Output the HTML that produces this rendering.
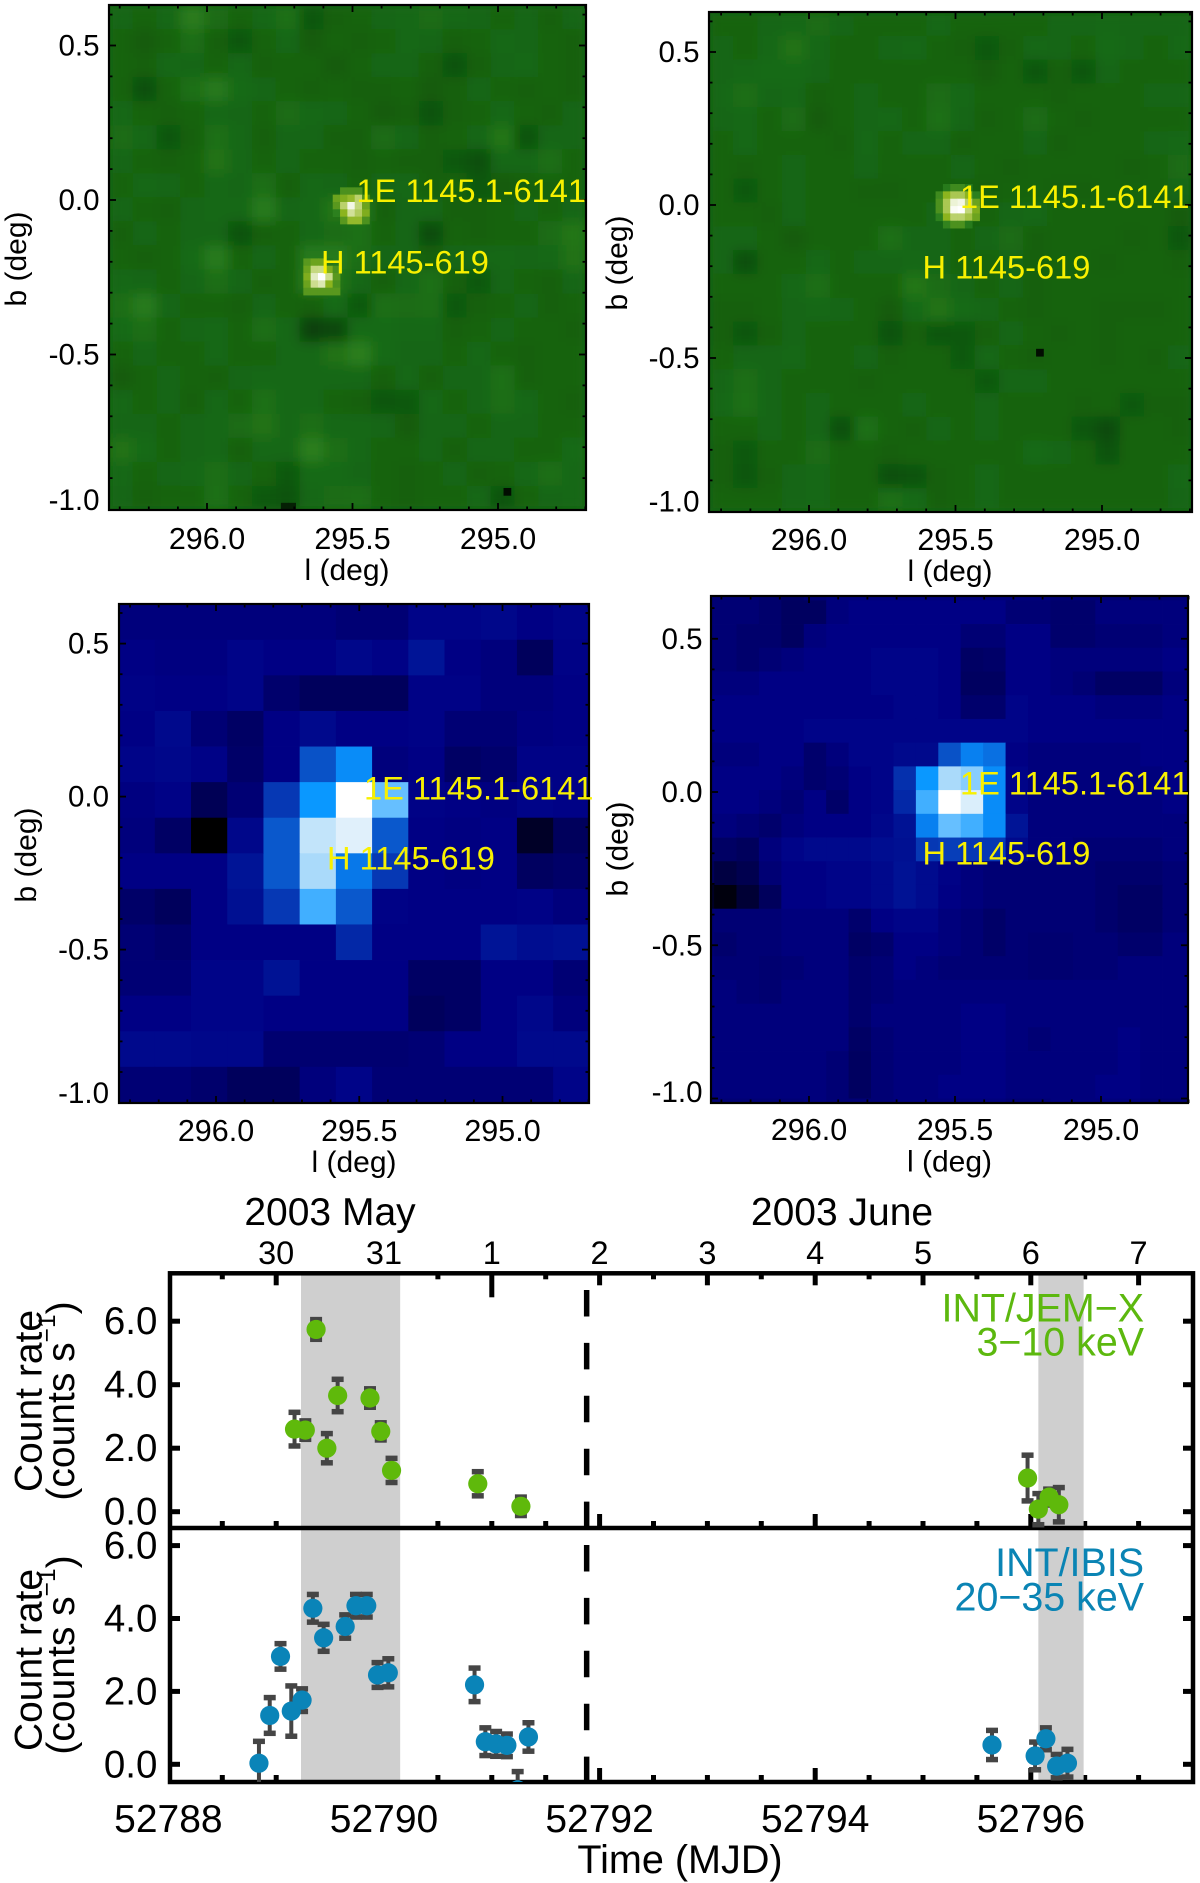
<!DOCTYPE html>
<html lang="en">
<head>
<meta charset="utf-8">
<title>1E 1145.1-6141 and H 1145-619 INTEGRAL maps and light curves</title>
<style>
html,body{margin:0;padding:0;background:#fff;}
svg{display:block;font-family:"Liberation Sans",Arial,sans-serif;}
.t{font-size:30px;fill:#000;}
.a{font-size:32.6px;fill:#f8f000;}
.c{font-size:39px;fill:#000;}
</style>
</head>
<body>
<svg id="figure" xmlns="http://www.w3.org/2000/svg" width="1200" height="1883" viewBox="0 0 1200 1883">
<defs>
<filter id="soft" x="-5%" y="-5%" width="110%" height="110%"><feGaussianBlur stdDeviation="6"/></filter>
<clipPath id="clip-p1"><rect x="109" y="5" width="477" height="505"/></clipPath>
<clipPath id="clip-p2"><rect x="709" y="12" width="483" height="500"/></clipPath>
<clipPath id="clip-p3"><rect x="119" y="604" width="470" height="499"/></clipPath>
<clipPath id="clip-p4"><rect x="711" y="596" width="477" height="507"/></clipPath>
<clipPath id="clip-upper"><rect x="170" y="1273" width="1023" height="255"/></clipPath>
<clipPath id="clip-lower"><rect x="170" y="1528" width="1023" height="254"/></clipPath>
</defs>
<rect width="1200" height="1883" fill="#fff"/>

<g id="p1"></g>
<g id="p2"></g>
<g id="p3"></g>
<g id="p4"></g>

<g>
<text class="t" x="347" y="580" text-anchor="middle">l (deg)</text>
<text class="t" x="26" y="259" text-anchor="middle" transform="rotate(-90 26 259)">b (deg)</text>
<text class="t" x="950" y="581" text-anchor="middle">l (deg)</text>
<text class="t" x="627" y="263" text-anchor="middle" transform="rotate(-90 627 263)">b (deg)</text>
<text class="t" x="354" y="1172" text-anchor="middle">l (deg)</text>
<text class="t" x="36" y="855" text-anchor="middle" transform="rotate(-90 36 855)">b (deg)</text>
<text class="t" x="949.5" y="1171.5" text-anchor="middle">l (deg)</text>
<text class="t" x="627.5" y="849" text-anchor="middle" transform="rotate(-90 627.5 849)">b (deg)</text>
</g>

<g>
<text class="a" x="356.5" y="202">1E 1145.1-6141</text>
<text class="a" x="321" y="273.6">H 1145-619</text>
<text class="a" x="960" y="207.8">1E 1145.1-6141</text>
<text class="a" x="922.5" y="278.6">H 1145-619</text>
<text class="a" x="364" y="799.3">1E 1145.1-6141</text>
<text class="a" x="327" y="869.4">H 1145-619</text>
<text class="a" x="960" y="794.7">1E 1145.1-6141</text>
<text class="a" x="922.5" y="864.4">H 1145-619</text>
</g>

<g id="lc-ticks"></g>
<g id="lc-bands"></g>
<rect x="170" y="1273.3" width="1023" height="508.7" fill="none" stroke="#000" stroke-width="4.5"/>
<line x1="170" x2="1193" y1="1528" y2="1528" stroke="#000" stroke-width="4.5"/>
<g id="lc-dash"></g>
<g id="lc-upper" clip-path="url(#clip-upper)"></g>
<g id="lc-lower" clip-path="url(#clip-lower)"></g>
<g id="lc-labels"></g>

<g>
<text class="c" x="330" y="1225" text-anchor="middle">2003 May</text>
<text class="c" x="842" y="1225" text-anchor="middle">2003 June</text>
<text class="c" x="680" y="1873" text-anchor="middle" style="font-size:39.6px">Time (MJD)</text>
<text class="c" x="41.5" y="1401" text-anchor="middle" transform="rotate(-90 41.5 1401)">Count rate</text>
<text class="c" x="74" y="1401" text-anchor="middle" transform="rotate(-90 74 1401)">(counts s<tspan font-size="24.5" dy="-19">−1</tspan><tspan dy="19">)</tspan></text>
<text class="c" x="41.5" y="1660" text-anchor="middle" transform="rotate(-90 41.5 1660)">Count rate</text>
<text class="c" x="74" y="1655" text-anchor="middle" transform="rotate(-90 74 1655)">(counts s<tspan font-size="24.5" dy="-19">−1</tspan><tspan dy="19">)</tspan></text>
<text class="c" x="1144" y="1321.7" text-anchor="end" style="fill:#5cb80e;font-size:39.4px">INT/JEM−X</text>
<text class="c" x="1144" y="1355.7" text-anchor="end" style="fill:#5cb80e;font-size:39.4px">3−10 keV</text>
<text class="c" x="1144" y="1576" text-anchor="end" style="fill:#0a84b4;font-size:39.4px">INT/IBIS</text>
<text class="c" x="1144" y="1610.7" text-anchor="end" style="fill:#0a84b4;font-size:39.4px">20−35 keV</text>
</g>

<script>
/* ---------- light curve data ---------- */
const jemMjd  = [52789.17,52789.27,52789.37,52789.47,52789.57,52789.87,52789.97,52790.07,52790.87,52791.27,52795.97,52796.07,52796.17,52796.26];
const jemRate = [2.60,2.57,5.74,2.00,3.66,3.58,2.53,1.30,0.88,0.17,1.06,0.08,0.46,0.22];
const jemErr  = [0.53,0.29,0.31,0.46,0.51,0.29,0.27,0.38,0.38,0.29,0.72,0.49,0.25,0.54];
const ibisMjd  = [52788.84,52788.94,52789.04,52789.14,52789.24,52789.34,52789.44,52789.64,52789.74,52789.84,52789.94,52790.04,52790.84,52790.94,52791.04,52791.14,52791.24,52791.34,52795.64,52796.04,52796.14,52796.24,52796.34];
const ibisRate = [0.03,1.34,2.96,1.46,1.76,4.28,3.47,3.78,4.35,4.35,2.45,2.51,2.18,0.62,0.56,0.52,-0.70,0.75,0.53,0.23,0.70,-0.05,0.03];
const ibisErr  = [0.60,0.49,0.35,0.69,0.31,0.38,0.37,0.32,0.31,0.31,0.34,0.385,0.46,0.38,0.34,0.31,0.50,0.39,0.40,0.38,0.30,0.32,0.38];
const bandStart = [52789.23,52796.07];
const bandEnd   = [52790.15,52796.49];
const dashMjd = 52791.88;
const rateTicks = [0,2,4,6];
const rateTickLabels = ["0.0","2.0","4.0","6.0"];
const dateTickMjd = [52789,52790,52791,52792,52793,52794,52795,52796,52797];
const dateTickLabels = ["30","31","1","2","3","4","5","6","7"];
const halfDayTicks = [52788.5,52789,52789.5,52790,52790.5,52791,52791.5,52792,52792.5,52793,52793.5,52794,52794.5,52795,52795.5,52796,52796.5,52797];
const mjdMajor = [52788,52790,52792,52794,52796];
const mjdLabels = ["52788","52790","52792","52794","52796"];

/* ---------- map data (0-100 intensity, estimated by eye) ---------- */
const lTicks = [296.0,295.5,295.0];
const lMinor = [296.3,296.2,296.1,295.9,295.8,295.7,295.6,295.4,295.3,295.2,295.1,294.9,294.8,294.7];
const bTicks = [0.5,0,-0.5,-1.0];
const bMinor = [0.6,0.4,0.3,0.2,0.1,-0.1,-0.2,-0.3,-0.4,-0.6,-0.7,-0.8,-0.9];

const p1Background = [
[32,31,33,43,35,31,33,37,27,30,31,32,33,35,33,32,31,32,30,32],
[31,29,31,36,30,27,31,33,29,31,30,31,33,32,30,31,33,32,31,30],
[31,30,33,32,31,33,30,31,31,29,31,32,32,30,26,30,32,33,31,30],
[31,25,31,37,41,34,32,31,30,31,30,30,31,29,30,32,31,30,31,30],
[33,31,30,31,33,32,31,35,33,32,31,29,30,26,30,31,33,31,30,32],
[35,33,27,30,37,33,30,32,32,30,30,35,32,30,31,32,40,26,32,32],
[32,31,30,31,38,33,31,32,31,31,30,31,30,30,28,25,33,33,36,31],
[31,33,32,31,33,32,36,30,33,32,31,32,33,30,31,28,29,30,31,31],
[32,31,30,32,33,33,42,32,33,40,42,30,32,33,30,30,31,32,31,32],
[30,32,31,32,32,26,30,31,33,35,37,31,32,24,31,30,31,31,35,40],
[31,30,31,34,42,31,32,31,42,42,36,32,32,30,32,33,33,32,33,38],
[33,32,31,32,36,32,30,31,44,40,33,30,33,37,30,28,32,31,30,32],
[36,42,32,31,31,30,32,31,30,34,28,36,35,36,28,30,31,32,30,31],
[34,36,31,32,33,31,36,33,20,22,34,34,33,33,30,31,32,31,31,30],
[31,32,31,31,33,31,31,33,33,38,44,34,32,32,31,33,31,30,31,31],
[29,31,32,31,30,32,33,33,33,33,33,30,33,30,32,32,37,30,31,31],
[33,31,32,30,33,31,37,33,33,31,30,27,28,33,31,32,36,33,31,30],
[32,32,31,32,33,35,38,33,36,33,33,32,29,32,32,31,32,32,31,31],
[38,34,31,32,33,30,33,33,44,36,33,31,31,32,30,32,32,31,31,34],
[33,31,32,33,36,32,31,28,34,34,32,31,30,31,32,30,31,33,36,33],
[32,30,31,31,37,31,28,26,33,35,36,31,30,31,31,33,26,31,32,33]
];
const p2Background = [
[31,31,32,33,35,32,31,31,31,33,31,31,31,31,32,32,33,32,32,32],
[32,31,33,38,33,31,31,32,33,31,30,28,30,33,32,31,34,32,31,33],
[32,33,34,34,32,31,31,31,31,31,31,29,31,27,30,27,32,31,31,31],
[33,36,32,33,30,31,32,31,31,35,33,31,31,31,30,31,31,31,32,32],
[32,33,31,35,29,31,32,33,31,37,32,30,31,35,31,30,31,31,31,31],
[31,33,31,31,31,30,33,31,32,32,30,31,31,32,30,31,31,31,32,33],
[31,30,31,32,31,31,32,31,31,31,32,31,30,31,31,31,31,30,31,35],
[31,28,31,32,31,31,30,30,31,31,31,30,31,31,30,30,31,31,31,32],
[31,31,30,32,31,31,31,31,31,32,31,31,32,33,31,31,31,31,31,29],
[32,32,31,29,31,31,31,37,32,32,31,32,35,30,31,31,31,30,31,27],
[32,25,31,31,33,31,32,32,33,32,31,31,32,30,31,31,30,31,31,30],
[31,31,31,33,36,31,31,31,40,35,32,31,32,30,31,31,31,31,31,31],
[30,30,31,32,33,32,31,29,34,38,34,32,31,30,31,31,30,30,30,31],
[30,27,30,32,31,31,31,26,30,27,28,30,32,31,30,31,30,31,31,31],
[31,32,32,33,31,31,32,30,31,31,28,33,31,30,31,31,30,31,30,32],
[32,36,32,31,31,31,30,31,31,31,31,28,32,32,31,31,31,31,31,31],
[33,37,32,31,32,31,31,31,32,31,31,32,31,31,31,30,31,28,30,30],
[31,31,32,31,32,25,37,31,30,32,31,32,31,31,31,27,24,31,31,30],
[30,28,31,31,35,31,31,30,31,31,31,31,31,34,32,31,26,31,31,31],
[30,27,30,32,33,31,31,25,26,30,31,33,31,31,31,31,31,31,31,33],
[31,31,31,32,33,31,31,37,34,30,31,33,31,31,31,31,31,31,31,32]
];
const p1SourceE = [
[null,50,50,50,null],
[55,58,62,72,50],
[52,72,95,74,55],
[45,60,80,70,58],
[null,52,62,62,50]
];
const p1SourceH = [
[52,55,55,40,null],
[55,75,76,58,50],
[58,88,100,78,52],
[55,78,85,60,50],
[52,52,52,52,52]
];
const p1SpotA = [[4]];
const p1SpotB = [[10,10]];
const p2SourceE = [
[null,42,48,48,42,null],
[48,60,68,68,60,45],
[50,68,92,95,72,55],
[50,68,98,100,74,58],
[45,60,72,72,66,55],
[null,46,50,50,42,null]
];
const p2Spot = [[4]];
const p3Cells = [
[22,22,22,22,22,22,20,20,26,26,27,24,26],
[24,23,23,26,24,24,27,25,33,24,22,14,25],
[25,24,24,26,18,14,14,14,25,25,22,22,24],
[24,28,20,16,24,28,24,24,25,20,20,23,24],
[26,27,25,17,24,50,64,22,24,16,18,25,25],
[23,25,13,20,42,66,100,76,25,24,23,26,25],
[22,16,0,27,52,88,93,52,24,23,24,6,14],
[24,24,24,33,52,84,60,42,24,23,24,15,17],
[17,14,24,31,42,72,52,25,24,24,24,25,22],
[20,18,24,24,24,24,38,24,24,24,33,30,31],
[20,20,26,26,32,24,24,24,16,16,24,24,20],
[24,24,26,26,24,24,24,24,14,16,24,27,22],
[28,28,27,27,19,19,19,19,20,24,24,28,28],
[20,20,18,14,14,22,26,20,20,20,20,20,26]
];
const p4Cells = [
[20,20,20,18,16,20,22,22,22,22,22,22,22,22,22,22,20,20,20,20,18,20,20],
[20,20,20,18,15,15,22,24,24,24,24,24,24,24,20,20,18,18,22,22,22,22,22],
[20,20,18,18,15,22,24,24,24,24,24,24,20,20,24,24,18,18,20,20,20,22,22],
[20,20,18,20,22,24,24,24,26,26,26,24,16,17,24,24,22,22,22,22,22,24,24],
[22,22,22,24,24,24,24,24,26,26,26,24,15,15,24,24,22,20,16,16,16,22,22],
[24,24,24,24,24,24,24,24,24,26,26,24,18,18,26,24,24,24,22,22,22,24,24],
[24,24,24,24,24,26,26,26,26,26,26,26,26,26,26,24,24,24,24,24,24,24,24],
[22,22,22,24,24,18,22,26,26,28,28,50,62,58,24,22,22,22,22,22,24,24,24],
[24,24,24,24,22,18,20,24,26,40,66,84,80,64,26,22,22,22,22,22,22,24,24],
[24,24,24,22,20,24,17,24,26,38,72,100,92,64,26,22,22,22,22,22,22,24,24],
[22,22,20,18,22,24,24,24,27,32,62,76,72,64,33,22,22,22,22,22,22,22,22],
[17,16,14,22,26,28,28,28,30,31,42,44,42,42,28,22,22,20,20,20,20,22,22],
[14,10,12,20,24,24,26,26,28,32,29,25,22,20,20,20,20,20,18,18,18,20,20],
[6,2,8,14,24,24,26,26,28,32,29,24,22,20,20,20,20,20,18,16,16,20,20],
[20,20,20,20,22,22,22,18,24,26,26,22,20,17,20,20,20,20,18,16,16,20,20],
[20,18,20,20,22,22,22,16,18,24,24,22,20,17,20,19,19,20,20,18,18,22,22],
[22,20,20,19,20,22,22,18,20,24,22,20,20,20,20,19,19,20,20,22,22,22,22],
[22,22,20,19,22,22,22,18,20,22,22,22,22,22,22,22,22,22,22,22,22,22,22],
[22,22,22,22,22,22,22,18,22,22,22,22,24,24,22,22,22,22,22,22,22,22,22],
[22,22,22,22,22,22,22,16,20,22,22,22,24,24,22,20,22,22,22,24,22,22,22],
[22,22,22,22,22,22,20,15,20,22,22,22,24,24,22,22,22,22,22,24,22,22,22],
[22,22,22,22,22,22,20,15,20,22,22,24,24,24,22,22,22,22,24,24,22,22,22],
[20,20,20,20,20,22,20,20,20,22,22,22,22,22,20,20,22,22,22,22,20,20,20]
];

/* ---------- helpers ---------- */
const NS = 'http://www.w3.org/2000/svg';
function mk(tag, attrs, parent) {
  const el = document.createElementNS(NS, tag);
  for (const k in attrs) el.setAttribute(k, attrs[k]);
  parent.appendChild(el);
  return el;
}
const greenStops = [[0,[0,0,0]],[22,[10,70,8]],[32,[22,102,18]],[45,[44,128,30]],[60,[140,180,30]],[75,[197,216,128]],[100,[255,255,255]]];
const blueStops = [[0,[0,0,0]],[14,[0,0,92]],[24,[0,0,132]],[33,[0,20,150]],[42,[6,56,180]],[52,[10,88,204]],[62,[8,128,240]],[66,[10,152,255]],[76,[102,191,255]],[84,[170,218,250]],[93,[224,240,251]],[100,[255,255,255]]];
function colorOf(stops, v) {
  for (let i = 1; i < stops.length; i++) {
    if (v <= stops[i][0]) {
      const a = stops[i-1], b = stops[i], t = (v - a[0]) / (b[0] - a[0]);
      return 'rgb(' + [0,1,2].map(c => Math.round(a[1][c] + (b[1][c] - a[1][c]) * t)).join(',') + ')';
    }
  }
  return 'rgb(255,255,255)';
}
function drawCells(parent, values, grid, panel, stops) {
  const X = l => panel.x296 + (296 - l) * panel.xPerDeg;
  const Y = b => panel.y0 - b * panel.yPerDeg;
  values.forEach((row, j) => row.forEach((v, i) => {
    if (v === null) return;
    const x1 = X(grid.l0 - i * grid.dl), x2 = X(grid.l0 - (i + 1) * grid.dl);
    const y1 = Y(grid.b0 - j * grid.db), y2 = Y(grid.b0 - (j + 1) * grid.db);
    const r = mk('rect', {x:x1, y:y1, width:x2 - x1 + 0.4, height:y2 - y1 + 0.4, fill:colorOf(stops, v)}, parent);
    
    
  }));
}
function drawAxes(parent, p) {
  const X = l => p.x296 + (296 - l) * p.xPerDeg;
  const Y = b => p.y0 - b * p.yPerDeg;
  const frame = mk('rect', {x:p.left, y:p.top, width:p.right - p.left, height:p.bottom - p.top, fill:'none', stroke:'#000', 'stroke-width':2.2}, parent);
  
  
  function xTick(l, len) {
    const x = X(l);
    const a = mk('line', {x1:x, x2:x, y1:p.bottom, y2:p.bottom - len, stroke:'#000', 'stroke-width':1.8}, parent);
    
    
    const b = mk('line', {x1:x, x2:x, y1:p.top, y2:p.top + len, stroke:'#000', 'stroke-width':1.8}, parent);
    
    
  }
  function yTick(v, len) {
    const y = Y(v);
    const a = mk('line', {x1:p.left, x2:p.left + len, y1:y, y2:y, stroke:'#000', 'stroke-width':1.8}, parent);
    
    
    const b = mk('line', {x1:p.right, x2:p.right - len, y1:y, y2:y, stroke:'#000', 'stroke-width':1.8}, parent);
    
    
  }
  lMinor.forEach(l => xTick(l, 3.5));
  lTicks.forEach(l => xTick(l, 7));
  bMinor.forEach(v => yTick(v, 3.5));
  bTicks.forEach(v => { if (Y(v) < p.bottom - 1) yTick(v, 7); });
  lTicks.forEach(l => {
    const t = mk('text', {x:X(l), y:p.xBase, 'text-anchor':'middle', 'font-size':30.5}, parent);
    
    
    t.textContent = l.toFixed(1);
  });
  bTicks.forEach(v => {
    const base = v === -1 ? p.lastBase : Y(v) + 10;
    const t = mk('text', {x:p.yRight, y:base, 'text-anchor':'end', 'font-size':29.5}, parent);
    
    
    t.textContent = v.toFixed(1);
  });
}

/* ---------- map panels ---------- */
const panel1 = {left:109, right:586, top:5, bottom:510, x296:207, xPerDeg:291, y0:200, yPerDeg:309, xBase:549, yRight:99.5, lastBase:510};
const panel2 = {left:709, right:1192, top:12, bottom:512, x296:809, xPerDeg:293, y0:205, yPerDeg:306, xBase:550, yRight:699.5, lastBase:511.7};
const panel3 = {left:119, right:589, top:604, bottom:1103, x296:216, xPerDeg:286.5, y0:796.6, yPerDeg:306, xBase:1141, yRight:109, lastBase:1103};
const panel4 = {left:711, right:1188, top:596, bottom:1103, x296:809, xPerDeg:292, y0:792, yPerDeg:306.5, xBase:1140, yRight:702.5, lastBase:1102};

function layer(id, clip, blur) {
  const g = mk('g', {'clip-path':'url(#' + clip + ')'}, document.getElementById(id));
  
  
  if (!blur) return g;
  const inner = mk('g', {filter:'url(#soft)'}, g);
  
  
  return {outer:g, inner:inner};
}

const base1 = mk('rect', {x:109, y:5, width:477, height:505, fill:colorOf(greenStops, 32)}, document.getElementById('p1'));


const l1 = layer('p1', 'clip-p1', true);
drawCells(l1.inner, p1Background, {l0:296.337, b0:0.631, dl:0.08196, db:0.0778}, panel1, greenStops);
drawCells(l1.outer, p1SourceE, {l0:295.568, b0:0.041, dl:0.0252, db:0.0237}, panel1, greenStops);
drawCells(l1.outer, p1SourceH, {l0:295.669, b0:-0.189, dl:0.0252, db:0.0237}, panel1, greenStops);
drawCells(l1.outer, p1SpotA, {l0:294.981, b0:-0.932, dl:0.0252, db:0.0237}, panel1, greenStops);
drawCells(l1.outer, p1SpotB, {l0:295.746, b0:-0.98, dl:0.0252, db:0.0237}, panel1, greenStops);
drawAxes(document.getElementById('p1'), panel1);

const base2 = mk('rect', {x:709, y:12, width:483, height:500, fill:colorOf(greenStops, 31)}, document.getElementById('p2'));


const l2 = layer('p2', 'clip-p2', true);
drawCells(l2.inner, p2Background, {l0:296.341, b0:0.6307, dl:0.08243, db:0.0778}, panel2, greenStops);
drawCells(l2.outer, p2SourceE, {l0:295.568, b0:0.0686, dl:0.025, db:0.024}, panel2, greenStops);
drawCells(l2.outer, p2Spot, {l0:295.225, b0:-0.47, dl:0.025, db:0.024}, panel2, greenStops);
drawAxes(document.getElementById('p2'), panel2);

const l3 = layer('p3', 'clip-p3', false);
drawCells(l3, p3Cells, {l0:296.34, b0:0.6288, dl:0.1264, db:0.1163}, panel3, blueStops);
drawAxes(document.getElementById('p3'), panel3);

const l4 = layer('p4', 'clip-p4', false);
drawCells(l4, p4Cells, {l0:296.402, b0:0.7028, dl:0.0768, db:0.0774}, panel4, blueStops);
drawAxes(document.getElementById('p4'), panel4);

/* ---------- light curves ---------- */
const xT = m => 384 + 107.8 * (m - 52790);
const yUp = v => 1511.7 - 31.75 * v;
const yLo = v => 1764.3 - 36.45 * v;
const tickG = document.getElementById('lc-ticks');
const labG = document.getElementById('lc-labels');
function vTick(x, y1, y2, name) {
  const t = mk('line', {x1:x, x2:x, y1:y1, y2:y2, stroke:'#000', 'stroke-width':5}, tickG);
  
  
}
halfDayTicks.forEach(m => {
  const x = xT(m);
  const isDay = m % 1 === 0;
  const topLen = m === 52791 ? 24 : (isDay ? 12 : 6);
  const even = mjdMajor.indexOf(m) >= 0;
  vTick(x, 1273.3, 1273.3 + topLen, 'top-time-tick');
  vTick(x, 1528, 1528 - (even ? 14 : 7), 'mid-time-tick');
  vTick(x, 1782, 1782 - (even ? 14 : 7), 'bottom-time-tick');
});
function hTicks(scale, name) {
  rateTicks.forEach(v => {
    const y = scale(v);
    const a = mk('line', {x1:170, x2:180, y1:y, y2:y, stroke:'#000', 'stroke-width':5}, tickG);
    
    
    const b = mk('line', {x1:1193, x2:1183, y1:y, y2:y, stroke:'#000', 'stroke-width':5}, tickG);
    
    
  });
}
hTicks(yUp, 'upper-rate-tick');
hTicks(yLo, 'lower-rate-tick');

bandStart.forEach((s, i) => {
  const b = mk('rect', {x:xT(s), y:1275, width:xT(bandEnd[i]) - xT(s), height:505, fill:'#cfcfcf'}, document.getElementById('lc-bands'));
  
  
});

const dashG = document.getElementById('lc-dash');
const d1 = mk('line', {x1:xT(dashMjd), x2:xT(dashMjd), y1:1290, y2:1526, stroke:'#000', 'stroke-width':5.5, 'stroke-dasharray':'26.5 26.4'}, dashG);


const d2 = mk('line', {x1:xT(dashMjd), x2:xT(dashMjd), y1:1545, y2:1782, stroke:'#000', 'stroke-width':5.5, 'stroke-dasharray':'26.5 26.4'}, dashG);



function drawSeries(parent, mjd, rate, err, yScale, color) {
  mjd.forEach((m, i) => {
    const x = xT(m), top = yScale(rate[i] + err[i]), bot = yScale(rate[i] - err[i]);
    const bar = mk('line', {x1:x, x2:x, y1:top, y2:bot, stroke:'#454545', 'stroke-width':4}, parent);
    
    
    [top, bot].forEach(y => {
      const cap = mk('line', {x1:x - 6, x2:x + 6, y1:y, y2:y, stroke:'#454545', 'stroke-width':5.5}, parent);
      
      
    });
  });
  mjd.forEach((m, i) => {
    const dot = mk('circle', {cx:xT(m), cy:yScale(rate[i]), r:9.6, fill:color}, parent);
    
    
  });
}
drawSeries(document.getElementById('lc-upper'), jemMjd, jemRate, jemErr, yUp, '#5fb90b');
drawSeries(document.getElementById('lc-lower'), ibisMjd, ibisRate, ibisErr, yLo, '#0a84b8');

rateTicks.forEach((v, i) => {
  const a = mk('text', {x:157.4, y:yUp(v) + 13, 'text-anchor':'end', 'font-size':38.5}, labG);
  
  
  a.textContent = rateTickLabels[i];
  const b = mk('text', {x:157.4, y:yLo(v) + 13, 'text-anchor':'end', 'font-size':38.5}, labG);
  
  
  b.textContent = rateTickLabels[i];
});
dateTickMjd.forEach((m, i) => {
  const t = mk('text', {x:xT(m), y:1264, 'text-anchor':'middle', 'font-size':32.5}, labG);
  
  
  t.textContent = dateTickLabels[i];
});
mjdMajor.forEach((m, i) => {
  const t = mk('text', {x:xT(m), y:1832, 'text-anchor':'middle', 'font-size':39}, labG);
  
  
  t.textContent = mjdLabels[i];
});
</script>
</svg>
</body>
</html>
